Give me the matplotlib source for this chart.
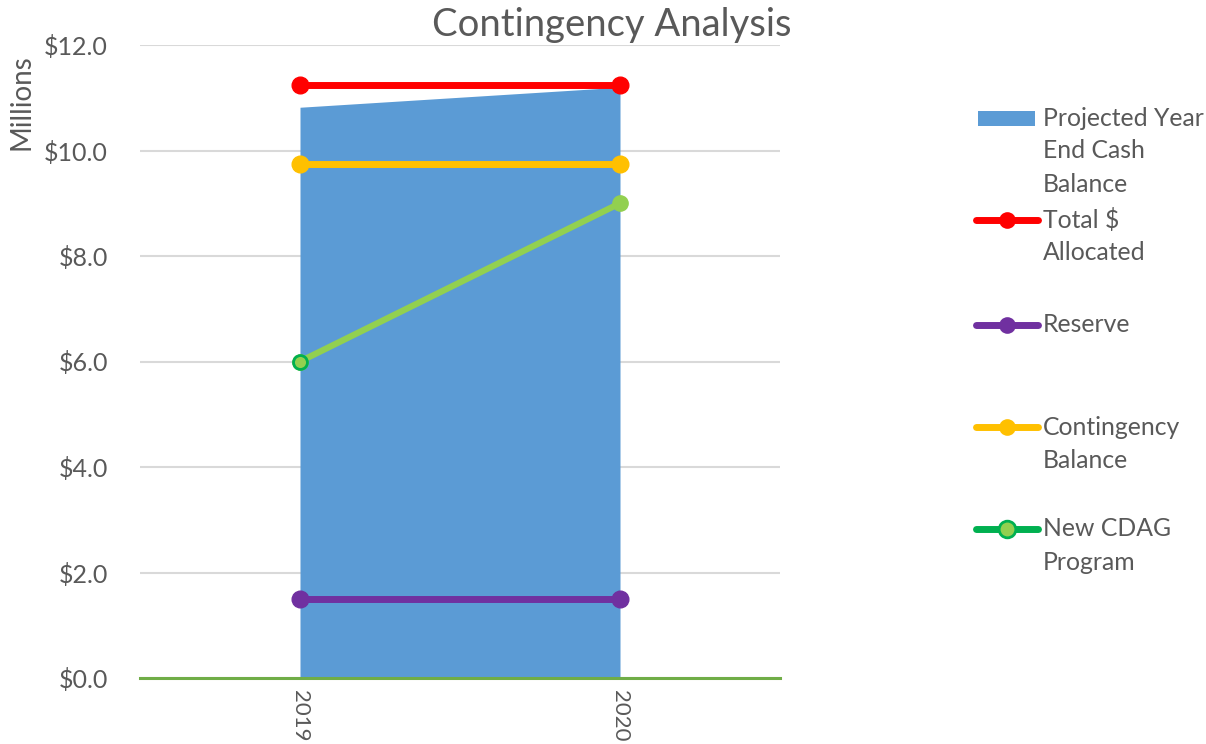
import matplotlib
matplotlib.use("Agg")
import matplotlib.pyplot as plt
from matplotlib.lines import Line2D
from matplotlib.patches import Rectangle
import numpy as np

plt.rcParams['font.family'] = ['Lato', 'DejaVu Sans']

years = ["2019", "2020"]
projected_cash = [10.82, 11.2]
total_allocated = [11.25, 11.25]
reserve = [1.5, 1.5]
contingency_balance = [9.75, 9.75]
new_cdag = [6.0, 9.0]
y_ticks = [0, 2, 4, 6, 8, 10, 12]
y_tick_labels = ["$0.0", "$2.0", "$4.0", "$6.0", "$8.0", "$10.0", "$12.0"]

W, H = 1206, 744
fig = plt.figure(figsize=(W / 100, H / 100), dpi=100)
ax = fig.add_axes([140 / W, 66 / H, 640 / W, 633 / H])

x = np.arange(len(years))
txt = "#595959"

ax.fill_between(x, 0, projected_cash, color="#5B9BD5", lw=0, zorder=2)
ax.plot(x, total_allocated, color="#FF0000", lw=5, marker="o", ms=12, zorder=4)
ax.plot(x, reserve, color="#7030A0", lw=5, marker="o", ms=12, zorder=4)
ax.plot(x, contingency_balance, color="#FFC000", lw=5, marker="o", ms=12, zorder=4)
ax.plot(x, new_cdag, color="#92D050", lw=4.5, marker="o", ms=11, mec="#92D050", zorder=4)
ax.plot(x[:1], new_cdag[:1], ls="none", marker="o", ms=10, mfc="#92D050", mec="#00B050", mew=2, zorder=5)

ax.set_xlim(-0.5, 1.5)
ax.set_ylim(0, 12)
ax.set_yticks(y_ticks)
ax.set_yticklabels(y_tick_labels)
ax.set_xticks(x)
ax.set_xticklabels(years, rotation=-90)
ax.tick_params(axis="y", length=0, pad=23, labelsize=18, labelcolor=txt)
ax.tick_params(axis="x", length=0, pad=9, labelsize=16, labelcolor=txt)
ax.grid(axis="y", color="#D9D9D9", lw=1.5, zorder=1)
ax.set_axisbelow(True)
for s in ["top", "right", "left"]:
    ax.spines[s].set_visible(False)
ax.spines["bottom"].set_color("#70AD47")
ax.spines["bottom"].set_linewidth(2.2)
ax.spines["bottom"].set_zorder(3)

fig.text(612 / W, 1 - 25 / H, "Contingency Analysis", ha="center", va="center",
         fontsize=27.5, color=txt)
fig.text(22 / W, 1 - 102 / H, "Millions", ha="center", va="center",
         rotation=90, fontsize=20, color=txt)

# legend (manual, Excel-style)
lx0, lx1, tx = 976, 1038, 1043
line_h = 33
entries = [
    ("area", "#5B9BD5", None, ["Projected Year", "End Cash", "Balance"], 118),
    ("line", "#FF0000", "#FF0000", ["Total $", "Allocated"], 220),
    ("line", "#7030A0", "#7030A0", ["Reserve"], 325),
    ("line", "#FFC000", "#FFC000", ["Contingency", "Balance"], 427),
    ("line", "#00B050", "#92D050", ["New CDAG", "Program"], 529),
]
for kind, col, mcol, lines, yc in entries:
    yf = 1 - yc / H
    if kind == "area":
        fig.add_artist(Rectangle((978 / W, 1 - 126 / H), 57 / W, 15 / H,
                                 transform=fig.transFigure, color=col, lw=0))
    else:
        fig.add_artist(Line2D([lx0 / W, lx1 / W], [yf, yf], transform=fig.transFigure,
                              color=col, lw=5, solid_capstyle="round"))
        fig.add_artist(Line2D([1007 / W], [yf], transform=fig.transFigure,
                              marker="o", ms=12, mfc=mcol, mec=col,
                              mew=2 if mcol != col else 0))
    for i, t in enumerate(lines):
        fig.text(tx / W, 1 - (yc + i * line_h) / H, t, ha="left", va="center",
                 fontsize=17.8, color=txt)

fig.savefig("out.png", dpi=100)
